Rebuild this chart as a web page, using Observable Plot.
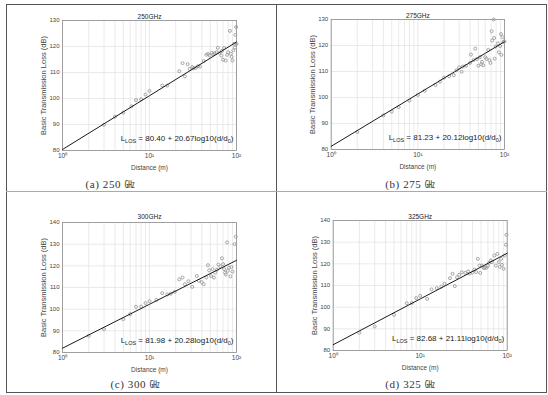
<!DOCTYPE html>
<html><head><meta charset="utf-8">
<script src="https://cdn.jsdelivr.net/npm/d3@7"></script>
<script src="https://cdn.jsdelivr.net/npm/@observablehq/plot@0.6"></script>
<style>
html,body{margin:0;padding:0;background:#fff;}
#page{position:relative;width:548px;height:395px;overflow:hidden;background:#fff;}
.panel{position:absolute;}
.cap{position:absolute;font-family:"Liberation Serif",serif;font-size:11px;color:#333;letter-spacing:0.6px;white-space:nowrap;transform:translate(-50%,-50%);}
.cap .u{font-family:"Noto Sans CJK SC","Noto Sans CJK JP",sans-serif;font-size:10px;color:#444;letter-spacing:0;}
.ln{position:absolute;z-index:5;}
</style></head><body><div id="page"></div>
<script>
const titles = ["250GHz", "275GHz", "300GHz", "325GHz"];
const captionLabels = ["(a) 250", "(b) 275", "(c) 300", "(d) 325"];
const captionUnit = "㎓";
const intercepts = [80.40, 81.23, 81.98, 82.68];
const slopes = [20.67, 20.12, 20.28, 21.11];
const yMax = [130, 130, 140, 140];
const xTicks = [1, 10, 100];
const yLabel = "Basic Transmission Loss (dB)";
const xLabel = "Distance (m)";

const pts250 = [[3,89.9],[4,93.0],[5,94.6],[6.2,97.0],[7,99.4],[8,99.7],[9,101.5],[10,102.9],[14,105.0],[16,105.0],[22,110.5],[24,113.6],[25.5,108.5],[27.5,113.2],[29,111.4],[31,112.1],[32,111.6],[34,111.8],[36,112.4],[38,112.3],[42,114.4],[45,116.8],[47,117.1],[49,116.6],[52,117.6],[54,117.0],[56,117.4],[59,117.8],[61,119.5],[64,117.6],[67,116.5],[68,118.3],[70,114.9],[72,119.4],[75,114.6],[78,116.8],[80,117.8],[84,126.0],[86,117.2],[88,116.0],[90,114.6],[92,118.5],[94,121.0],[96,119.6],[97,124.5],[99,127.5],[100,121.0]];
const pts275 = [[2,86.7],[4,93.1],[5,94.6],[6,96.3],[8,98.8],[10,101.0],[12,102.6],[16,104.8],[18,106.1],[20,107.6],[23,108.2],[26,108.6],[28,110.5],[30,111.6],[32,109.9],[33,111.9],[36,112.2],[40,113.3],[41,116.5],[44,114.4],[46,118.8],[48,114.8],[50,112.2],[52,115.5],[54,112.8],[55,113.7],[57,112.4],[60,115.5],[62,114.8],[65,118.3],[67,114.4],[69,113.3],[71,125.5],[72,121.9],[75,130.0],[76,122.9],[77,114.9],[79,119.6],[84,120.8],[86,117.4],[89,119.8],[91,124.4],[92,116.4],[95,123.2],[97,121.4],[100,121.6]];
const pts300 = [[2,87.7],[3,90.8],[5,95.4],[6,97.7],[7,101.1],[8,101.2],[9,102.8],[10,103.7],[12,104.3],[14,107.4],[16,106.8],[17.5,107.1],[19.5,108.0],[22,113.8],[24,114.6],[25.5,111.5],[28,112.9],[31,110.3],[35,115.3],[37,113.1],[40,112.4],[42,111.5],[45,114.6],[47,120.3],[48.5,117.9],[51,115.3],[53,118.5],[55,114.6],[57,116.9],[59.5,118.2],[62,120.6],[65,119.7],[68,123.5],[70,120.8],[72,118.5],[74,116.9],[75.5,116.0],[78,130.8],[79.5,117.7],[82,119.1],[85,115.1],[87.5,119.4],[90,117.3],[95,130.0],[98,133.5]];
const pts325 = [[2,88.2],[3,91.1],[5,96.5],[7,101.8],[8,102.0],[9,104.2],[10,105.2],[12,103.8],[13.5,108.2],[15.5,108.8],[17.5,109.5],[19,110.8],[22,113.4],[23.5,115.4],[25,109.7],[26.5,113.8],[28,114.9],[30,116.1],[33,115.8],[35.5,116.5],[37,115.5],[40,116.0],[42,117.3],[44,116.2],[46,122.3],[48,119.2],[49,115.8],[51,119.2],[54,118.0],[55.5,118.3],[57.5,118.2],[60,119.0],[62,120.5],[65,121.6],[67,120.8],[71,123.8],[74,119.2],[77,124.6],[80,120.8],[82,118.5],[85,122.3],[87,119.5],[91,117.7],[93,123.8],[96.5,128.8],[98,133.4]];
const allPts = [pts250, pts275, pts300, pts325];

// layout (positions only)
const layout = [
  {left:7,   top:0,   w:269, h:180, ml:55,   mr:40,   mt:20, mb:30, tdy:-6, cx:110, cy:183},
  {left:277, top:0,   w:270, h:180, ml:53.7, mr:43,   mt:19, mb:31, tdy:-6, cx:410, cy:183},
  {left:7,   top:192, w:269, h:190, ml:55,   mr:40,   mt:30, mb:30, tdy:-8, cx:135, cy:383},
  {left:277, top:192, w:270, h:190, ml:55.7, mr:40.3, mt:28, mb:32, tdy:-6, cx:410, cy:383}
];

const page = document.getElementById("page");
const sup = {0:"\u2070", 1:"\u00B9", 2:"\u00B2"};
const gridX = [];
for (const dec of [1, 10]) for (let k = 1; k <= 9; k++) gridX.push(k * dec);
gridX.push(100);

allPts.forEach((pts, i) => {
  const L = layout[i];
  const a = intercepts[i], b = slopes[i];
  const yt = d3.range(80, yMax[i] + 1, 10);
  const fit = xTicks.map(d => ({d, v: a + b * Math.log10(d)}));
  const ann = `L_LOS = ${a.toFixed(2)} + ${b.toFixed(2)}log10(d/d_0)`;
  const chart = Plot.plot({
    width: L.w, height: L.h,
    marginLeft: L.ml, marginRight: L.mr, marginTop: L.mt, marginBottom: L.mb,
    style: {background: "transparent", fontFamily: "'Liberation Sans', Arial, sans-serif", fontSize: "6px", color: "#444", overflow: "visible"},
    x: {type: "log", domain: [1, 100]},
    y: {domain: [80, yMax[i]]},
    marks: [
      Plot.ruleX(gridX, {stroke: "#e4e4e4", strokeWidth: 0.8}),
      Plot.ruleY(yt, {stroke: "#e4e4e4", strokeWidth: 0.8}),
      Plot.frame({stroke: "#8c8c8c", strokeWidth: 0.8}),
      Plot.axisX({ticks: xTicks, tickFormat: d => "10" + sup[Math.round(Math.log10(d))], tickSize: 0, tickPadding: 3, label: null, fontSize: 6.5}),
      Plot.axisY({ticks: yt, tickSize: 0, tickPadding: 3, label: null, fontSize: 6}),
      Plot.text([xLabel], {text: d => d, frameAnchor: "bottom", dy: 19, fontSize: 6.5, fill: "#444"}),
      Plot.text([yLabel], {text: d => d, frameAnchor: "left", rotate: -90, dx: -19, textAnchor: "middle", fontSize: 7.5, fill: "#444"}),
      Plot.text([titles[i]], {text: d => d, frameAnchor: "top", dy: L.tdy, fontSize: 6.5, fill: "#222"}),
      Plot.dot(pts, {x: d => d[0], y: d => d[1], r: 1.5, stroke: "#9c9c9c", strokeWidth: 0.9, fill: "none"}),
      Plot.line(fit, {x: "d", y: "v", stroke: "#1a1a1a", strokeWidth: 1}),
      Plot.text([ann], {text: d => d, frameAnchor: "bottom-right", dx: -3, dy: -10, textAnchor: "end", fontSize: 8, fill: "#222"})
    ]
  });
  d3.select(chart).selectAll("text").filter(function() { return this.textContent === ann; }).each(function() {
    const t = d3.select(this);
    t.text(null);
    t.append("tspan").text("L");
    t.append("tspan").attr("font-size", 5.5).attr("dy", 2).text("LOS");
    t.append("tspan").attr("dy", -2).text(` = ${a.toFixed(2)} + ${b.toFixed(2)}log10(d/d`);
    t.append("tspan").attr("font-size", 5.5).attr("dy", 2).text("0");
    t.append("tspan").attr("dy", -2).text(")");
  });
  const wrap = document.createElement("div");
  wrap.className = "panel";
  wrap.style.left = L.left + "px";
  wrap.style.top = L.top + "px";
  wrap.appendChild(chart);
  page.appendChild(wrap);
  const cap = document.createElement("div");
  cap.className = "cap";
  cap.style.left = L.cx + "px";
  cap.style.top = L.cy + "px";
  cap.appendChild(document.createTextNode(captionLabels[i] + " "));
  const u = document.createElement("span");
  u.className = "u";
  u.textContent = captionUnit;
  cap.appendChild(u);
  page.appendChild(cap);
});

function line(x, y, w, h, c) {
  const d = document.createElement("div");
  d.className = "ln";
  Object.assign(d.style, {left: x + "px", top: y + "px", width: w + "px", height: h + "px", background: c});
  page.appendChild(d);
}
line(6, 4, 541, 1, "#555");
line(6, 392, 541, 1, "#555");
line(6, 4, 1, 389, "#555");
line(546, 4, 1, 389, "#555");
line(276, 4, 1, 389, "#555");
line(6, 191, 541, 1, "#aaa");
</script></body></html>
